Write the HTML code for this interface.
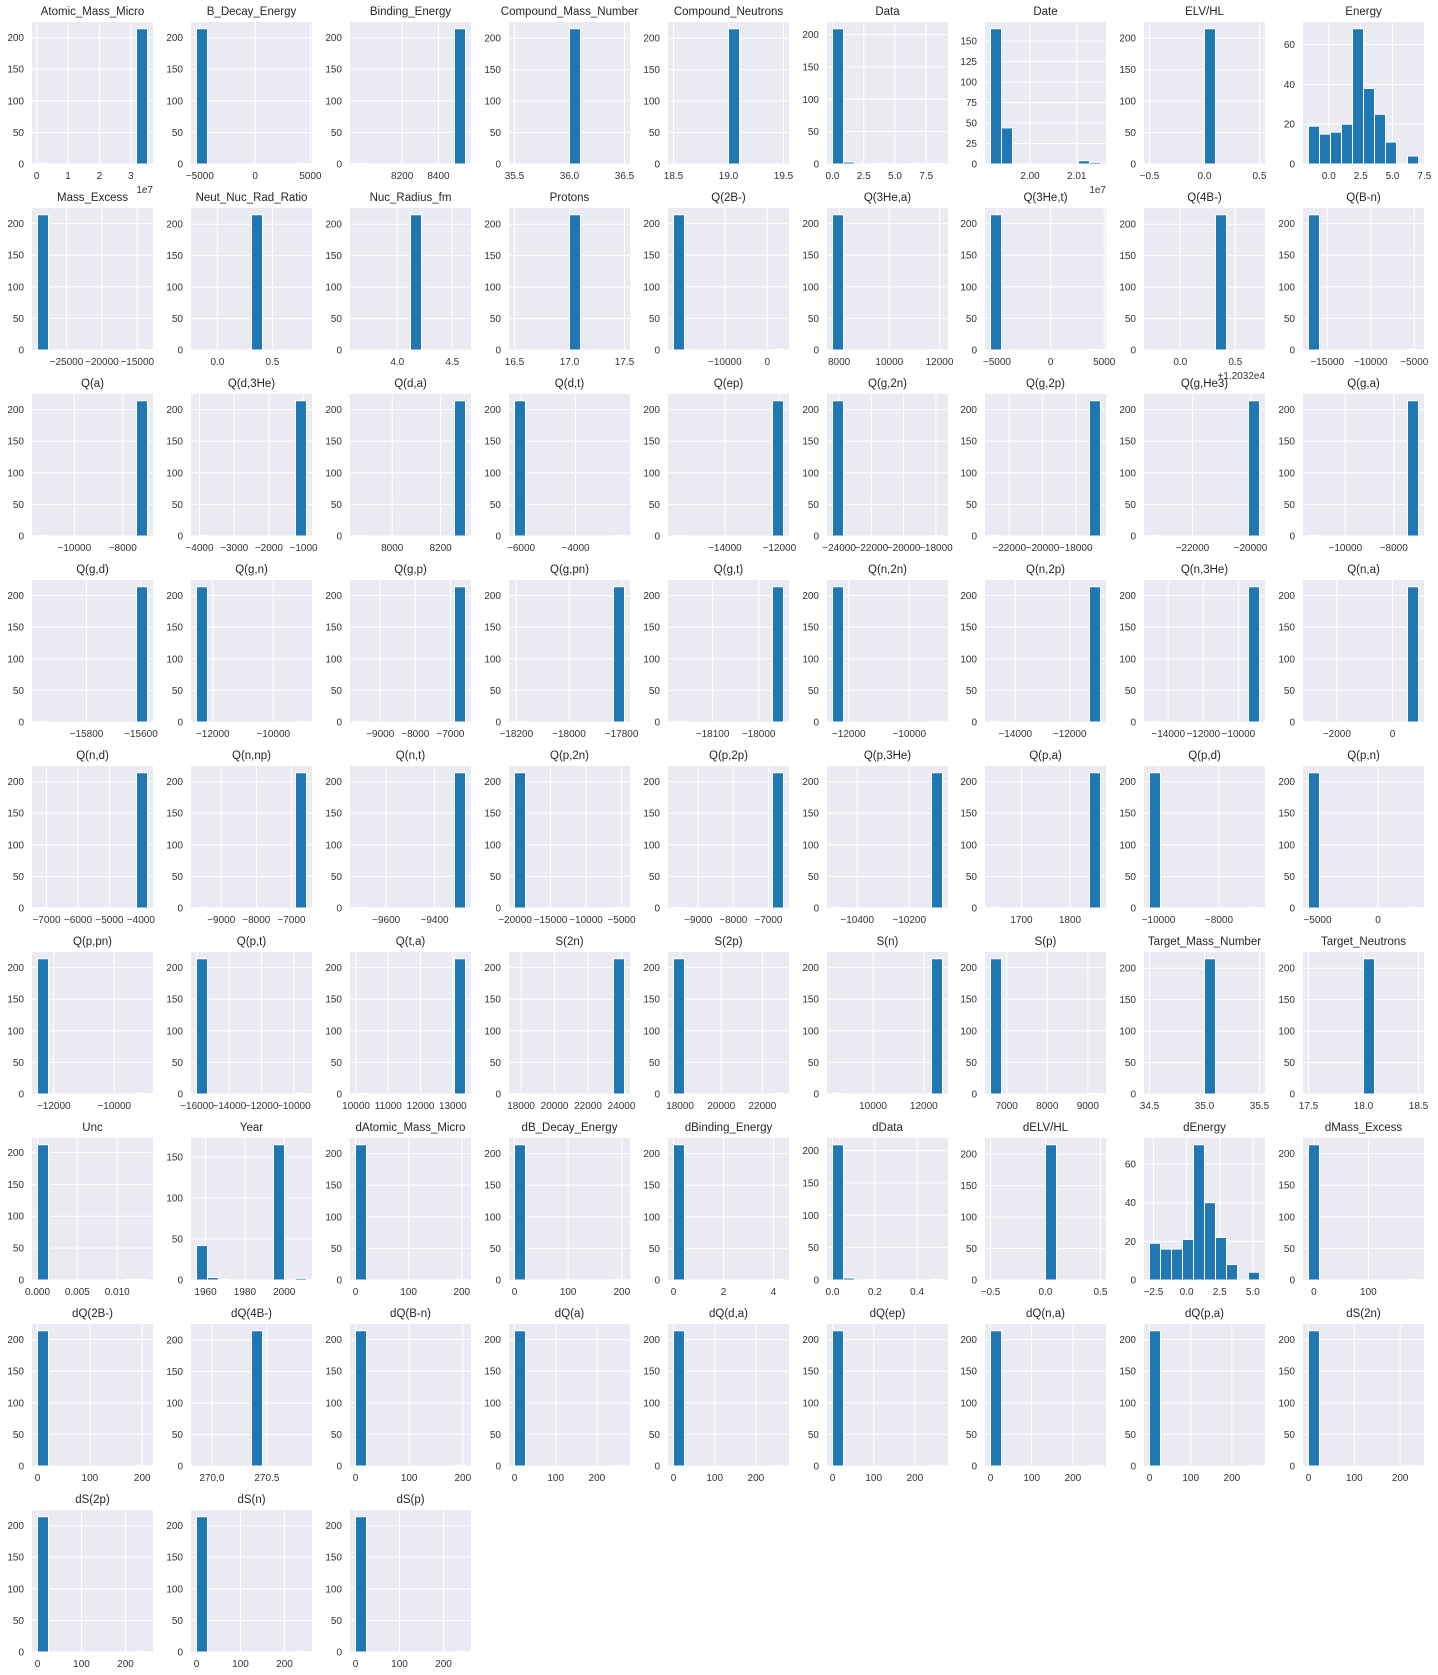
<!DOCTYPE html>
<html><head><meta charset="utf-8">
<style>
html,body{margin:0;padding:0;background:#fff;}
svg{display:block;font-family:"Liberation Sans",Arial,sans-serif;}
</style></head>
<body>
<svg id="fig" width="1438" height="1675" viewBox="0 0 1438 1675" xmlns="http://www.w3.org/2000/svg"></svg>
<script>
const L=[214,0,0,0,0,0,0,0,0,1];
const R=[1,0,0,0,0,0,0,0,0,214];
const C=[0,0,0,0,0,215,0,0,0,0];
const C6=[0,0,0,0,0,0,215,0,0,0];
const Y5=[0,50,100,150,200];
const YD=[0,25,50,75,100,125,150];
const YY=[0,50,100,150];
const YE=[0,20,40,60];
const titles=["Atomic_Mass_Micro","B_Decay_Energy","Binding_Energy","Compound_Mass_Number","Compound_Neutrons","Data","Date","ELV/HL","Energy",
"Mass_Excess","Neut_Nuc_Rad_Ratio","Nuc_Radius_fm","Protons","Q(2B-)","Q(3He,a)","Q(3He,t)","Q(4B-)","Q(B-n)",
"Q(a)","Q(d,3He)","Q(d,a)","Q(d,t)","Q(ep)","Q(g,2n)","Q(g,2p)","Q(g,He3)","Q(g,a)",
"Q(g,d)","Q(g,n)","Q(g,p)","Q(g,pn)","Q(g,t)","Q(n,2n)","Q(n,2p)","Q(n,3He)","Q(n,a)",
"Q(n,d)","Q(n,np)","Q(n,t)","Q(p,2n)","Q(p,2p)","Q(p,3He)","Q(p,a)","Q(p,d)","Q(p,n)",
"Q(p,pn)","Q(p,t)","Q(t,a)","S(2n)","S(2p)","S(n)","S(p)","Target_Mass_Number","Target_Neutrons",
"Unc","Year","dAtomic_Mass_Micro","dB_Decay_Energy","dBinding_Energy","dData","dELV/HL","dEnergy","dMass_Excess",
"dQ(2B-)","dQ(4B-)","dQ(B-n)","dQ(a)","dQ(d,a)","dQ(ep)","dQ(n,a)","dQ(p,a)","dS(2n)",
"dS(2p)","dS(n)","dS(p)"];
const binLo=[0.025,-5306,7943,35.5,18.5,0,1.99154,-0.5,-1.6,
-29095,-0.19,3.62,16.5,-22130,7737,-5600,-0.28,-17147,
-11523,-4086,7848,-6242,-15887,-24409,-23124,-23477,-11523,
-15980,-12538,-9705,-18207,-18185,-12538,-14909,-15066,-3019,
-7287,-9705,-9727,-20077,-9705,-10495,1636,-10298,-5745,
-12538,-16034,9983,17606,17679,8406,6599,34.5,17.5,
0,1955.4,0,0,0,0,-0.5,-2.8,-10,
0,269.86,0,0,0,0,0,0,0,
0,0,0];
const binHi=[3.535,4650,8549,36.5,19.5,8.8,2.01509,0.5,7.04,
-13555,0.81,4.62,17.5,3844,12118,4650,0.72,-4521,
-6978,-915,8303,-2202,-11847,-17591,-16512,-19689,-6978,
-15576,-8902,-6570,-17789,-17946,-8902,-10869,-8796,934,
-3790,-6570,-9272,-4581,-6570,-10072,1863,-6662,3346,
-8902,-9216,13392,24178,23027,12735,9313,35.5,18.5,
0.0138,2011.3,207,205,4.4,0.52,0.5,5.5,192,
210,270.86,205,267,267,267,267,267,240,
250,250,250];
const counts=[R,L,R,C,C,[209,3,0,0,1,0,0,1,0,1],[165,44,0,0,0,0,0,0,4,2],C,[19,15,16,20,68,38,25,11,0,4],
L,C,C,C,L,L,L,C6,L,
R,R,R,L,R,L,R,R,R,
R,L,R,R,R,L,R,R,R,
R,R,R,L,R,R,R,L,L,
L,L,R,R,L,R,L,C,C,
[212,0,0,0,0,0,0,0,1,1],[42,3,1,0,0,0,0,165,0,2],L,L,L,[209,3,0,1,0,0,0,0,0,1],C,[19,16,16,21,70,40,22,8,0,4],L,
L,C,L,L,L,L,L,L,L,
L,L,L];
const xTicks=[[0,1,2,3],[-5000,0,5000],[8200,8400],[35.5,36,36.5],[18.5,19,19.5],[0,2.5,5,7.5],[2.00,2.01],[-0.5,0,0.5],[0,2.5,5,7.5],
[-25000,-20000,-15000],[0,0.5],[4,4.5],[16.5,17,17.5],[-10000,0],[8000,10000,12000],[-5000,0,5000],[0,0.5],[-15000,-10000,-5000],
[-10000,-8000],[-4000,-3000,-2000,-1000],[8000,8200],[-6000,-4000],[-14000,-12000],[-24000,-22000,-20000,-18000],[-22000,-20000,-18000],[-22000,-20000],[-10000,-8000],
[-15800,-15600],[-12000,-10000],[-9000,-8000,-7000],[-18200,-18000,-17800],[-18100,-18000],[-12000,-10000],[-14000,-12000],[-14000,-12000,-10000],[-2000,0],
[-7000,-6000,-5000,-4000],[-9000,-8000,-7000],[-9600,-9400],[-20000,-15000,-10000,-5000],[-9000,-8000,-7000],[-10400,-10200],[1700,1800],[-10000,-8000],[-5000,0],
[-12000,-10000],[-16000,-14000,-12000,-10000],[10000,11000,12000,13000],[18000,20000,22000,24000],[18000,20000,22000],[10000,12000],[7000,8000,9000],[34.5,35,35.5],[17.5,18,18.5],
[0,0.005,0.01],[1960,1980,2000],[0,100,200],[0,100,200],[0,2,4],[0,0.2,0.4],[-0.5,0,0.5],[-2.5,0,2.5,5],[0,100],
[0,100,200],[270,270.5],[0,100,200],[0,100,200],[0,100,200],[0,100,200],[0,100,200],[0,100,200],[0,100,200],
[0,100,200],[0,100,200],[0,100,200]];
const xDec=[0,0,0,1,1,1,2,1,1, 0,1,1,1,0,0,0,1,0, 0,0,0,0,0,0,0,0,0, 0,0,0,0,0,0,0,0,0, 0,0,0,0,0,0,0,0,0, 0,0,0,0,0,0,0,1,1, 3,0,0,0,0,1,1,1,0, 0,1,0,0,0,0,0,0,0, 0,0,0];
const yTicks=[Y5,Y5,Y5,Y5,Y5,Y5,YD,Y5,YE, Y5,Y5,Y5,Y5,Y5,Y5,Y5,Y5,Y5, Y5,Y5,Y5,Y5,Y5,Y5,Y5,Y5,Y5, Y5,Y5,Y5,Y5,Y5,Y5,Y5,Y5,Y5, Y5,Y5,Y5,Y5,Y5,Y5,Y5,Y5,Y5, Y5,Y5,Y5,Y5,Y5,Y5,Y5,Y5,Y5, Y5,YY,Y5,Y5,Y5,Y5,Y5,YE,Y5, Y5,Y5,Y5,Y5,Y5,Y5,Y5,Y5,Y5, Y5,Y5,Y5];
const offsets={0:"1e7",6:"1e7",16:"+1.2032e4"};

const NS="http://www.w3.org/2000/svg";
const svg=document.getElementById('fig');
function mk(tag,attrs,parent){const e=document.createElementNS(NS,tag);for(const k in attrs)e.setAttribute(k,attrs[k]);parent.appendChild(e);return e;}
const PW=121,PH=142;
function fmt(v,d){let s=v.toFixed(d);if(s.startsWith('-')){if(Number(s)===0)s=s.slice(1);else s='\u2212'+s.slice(1);}return s;}
titles.forEach((t,i)=>{
  const col=i%9,row=Math.floor(i/9);
  const px=Math.round(32+158.9*col),py=22+186*row;
  const g=mk('g',{},svg);
  
  
  const lo=binLo[i],hi=binHi[i],rng=hi-lo;
  const xmin=lo-0.05*rng,xmax=hi+0.05*rng;
  const cs=counts[i];
  const ymax=Math.max(...cs)*1.05;
  const xs=v=>px+(v-xmin)/(xmax-xmin)*PW;
  const ys=v=>py+PH-v/ymax*PH;
  const bg=mk('rect',{x:px,y:py,width:PW,height:PH,fill:'#eaeaf2'},g);
  
  
  yTicks[i].forEach(v=>{
    if(v>ymax)return;
    const y=ys(v);
    const gl=mk('line',{x1:px,x2:px+PW,y1:y,y2:y,stroke:'#fff','stroke-width':1},g);
    
    
    const tl=mk('text',{x:px-8,y:y+3.5,'text-anchor':'end','font-size':10,fill:'#333'},g);
    
    
    tl.textContent=String(v);
  });
  xTicks[i].forEach(v=>{
    const x=xs(v);
    if(x<px-1||x>px+PW+1)return;
    const gl=mk('line',{x1:x,x2:x,y1:py,y2:py+PH,stroke:'#fff','stroke-width':1},g);
    
    
    const tl=mk('text',{x:x,y:py+PH+15,'text-anchor':'middle','font-size':10,fill:'#333'},g);
    
    
    tl.textContent=fmt(v,xDec[i]);
  });
  const bw=rng/10;
  cs.forEach((c,k)=>{
    if(c<=0)return;
    const x0=xs(lo+k*bw),x1=xs(lo+(k+1)*bw);
    const b=mk('rect',{x:x0,y:ys(c),width:x1-x0,height:ys(0)-ys(c),fill:'#1f77b4',stroke:'#fff','stroke-width':1},g);
    
    
  });
  const tt=mk('text',{x:px+PW/2,y:py-7,'text-anchor':'middle','font-size':11.5,fill:'#262626'},g);
  
  
  tt.textContent=t;
  if(offsets[i]){
    const ot=mk('text',{x:px+PW,y:py+PH+29,'text-anchor':'end','font-size':10,fill:'#333'},g);
    
    
    ot.textContent=offsets[i];
  }
});
</script>
</body></html>
